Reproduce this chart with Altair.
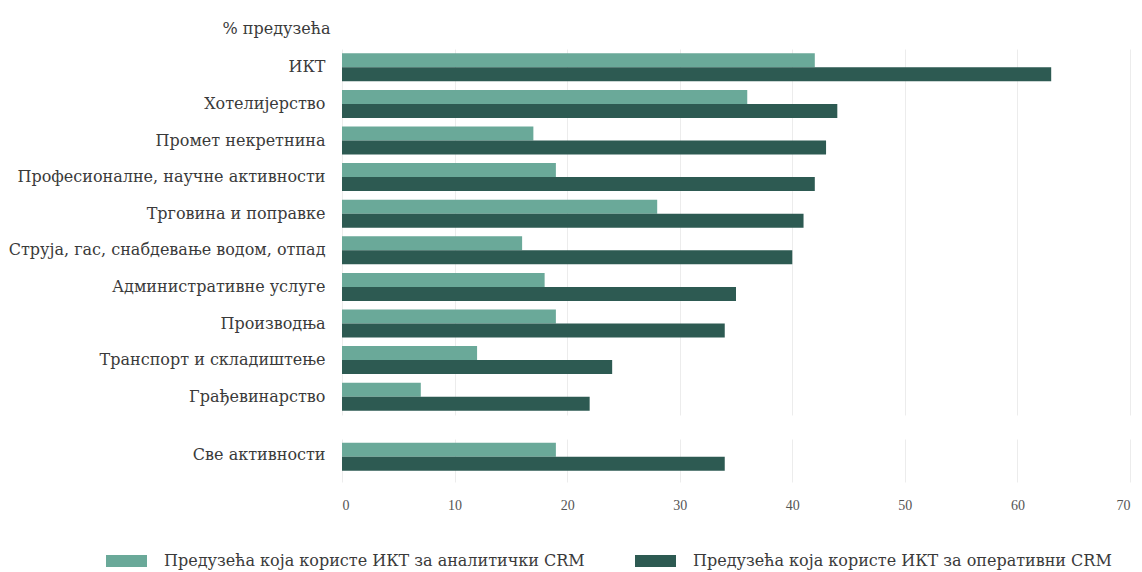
import altair as alt
import pandas as pd

categories = [
    "ИКТ",
    "Хотелијерство",
    "Промет некретнина",
    "Професионалне, научне активности",
    "Трговина и поправке",
    "Струја, гас, снабдевање водом, отпад",
    "Административне услуге",
    "Производња",
    "Транспорт и складиштење",
    "Грађевинарство",
    "Све активности",
]
analytic = [42, 36, 17, 19, 28, 16, 18, 19, 12, 7, 19]
operative = [63, 44, 43, 42, 41, 40, 35, 34, 24, 22, 34]
series = [
    "Предузећа која користе ИКТ за аналитички CRM",
    "Предузећа која користе ИКТ за оперативни CRM",
]
colors = ["#6aa999", "#2d5a52"]
total_label = "Све активности"
x_ticks = [0, 10, 20, 30, 40, 50, 60, 70]
y_title = "% предузећа"

rows = []
for c, a, o in zip(categories, analytic, operative):
    rows.append({"cat": c, "series": series[0], "value": a})
    rows.append({"cat": c, "series": series[1], "value": o})
df = pd.DataFrame(rows)

FONT = "DejaVu Serif"
TXT = "#3a3a3a"

color = alt.Color(
    "series:N",
    scale=alt.Scale(domain=series, range=colors),
    legend=alt.Legend(
        title=None,
        orient="none",
        legendX=-236,
        legendY=502,
        direction="horizontal",
        symbolType="M-1,-0.6H3.1V0.6H-1Z",
        symbolSize=400,
        symbolStrokeWidth=0,
        symbolOpacity=1,
        labelOffset=38,
        columnPadding=50,
        labelFont=FONT,
        labelFontSize=16,
        labelColor=TXT,
        labelLimit=600,
    ),
)
yoff = alt.YOffset("series:N", scale=alt.Scale(domain=series))

top_cats = [c for c in categories if c != total_label]

top = (
    alt.Chart(df)
    .transform_filter(alt.datum.cat != total_label)
    .mark_bar()
    .encode(
        x=alt.X(
            "value:Q",
            scale=alt.Scale(domain=[0, 70], nice=False),
            axis=alt.Axis(values=x_ticks, labels=False, ticks=False, domain=False,
                          grid=True, title=None),
        ),
        y=alt.Y(
            "cat:N",
            sort=top_cats,
            scale=alt.Scale(paddingInner=0.235, paddingOuter=0.1175),
            axis=alt.Axis(
                title=y_title,
                titleAngle=0,
                titleAlign="right",
                titleBaseline="middle",
                titleX=-12,
                titleY=-21,
                titleFont=FONT,
                titleFontSize=16,
                titleFontWeight="normal",
                titleColor=TXT,
                labelPadding=17,
                minExtent=327,
                maxExtent=327,
            ),
        ),
        yOffset=yoff,
        color=color,
    )
    .properties(width=788, height=366)
)

bottom = (
    alt.Chart(df)
    .transform_filter(alt.datum.cat == total_label)
    .mark_bar()
    .encode(
        x=alt.X(
            "value:Q",
            scale=alt.Scale(domain=[0, 70], nice=False),
            axis=alt.Axis(values=x_ticks, ticks=False, tickSize=0, domain=False,
                          grid=True, title=None, labelPadding=16,
                          labelFont="Liberation Serif", labelFontSize=14,
                          labelColor="#555555"),
        ),
        y=alt.Y(
            "cat:N",
            scale=alt.Scale(paddingInner=0.235, paddingOuter=0.30, align=0.195),
            axis=alt.Axis(title=None, labelPadding=17, minExtent=327, maxExtent=327),
        ),
        yOffset=yoff,
        color=color,
    )
    .properties(width=788, height=43)
)

chart = (
    alt.vconcat(top, bottom, spacing=24)
    .properties(padding={"left": 8, "top": 20, "right": 5, "bottom": 5})
    .configure_view(stroke=None)
    .configure_axis(gridColor="#ececec", gridWidth=1)
    .configure_axisY(
        labelFont=FONT,
        labelFontSize=16,
        labelColor=TXT,
        ticks=False,
        domain=False,
        grid=False,
        labelLimit=400,
    )
    .configure_concat(spacing=24)
)

chart.save("out.html", embed_options={"renderer": "svg", "actions": False})
